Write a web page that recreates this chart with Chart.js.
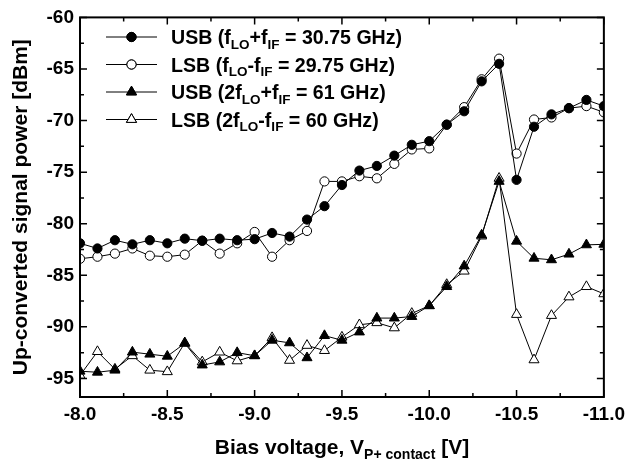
<!DOCTYPE html>
<html><head><meta charset="utf-8">
<script src="https://cdn.jsdelivr.net/npm/chart.js@4.4.1/dist/chart.umd.min.js"></script>
<style>html,body{margin:0;padding:0;background:#fff;} canvas{display:block;}</style>
</head><body>
<canvas id="c" width="631" height="463"></canvas>
<script>
// ---- data ----
const biasVoltage = [-8.0,-8.1,-8.2,-8.3,-8.4,-8.5,-8.6,-8.7,-8.8,-8.9,-9.0,-9.1,-9.2,-9.3,-9.4,-9.5,-9.6,-9.7,-9.8,-9.9,-10.0,-10.1,-10.2,-10.3,-10.4,-10.5,-10.6,-10.7,-10.8,-10.9,-11.0];
const usbFund  = [-81.9,-82.4,-81.6,-82.0,-81.6,-81.9,-81.45,-81.65,-81.45,-81.6,-81.5,-80.9,-81.25,-79.6,-78.3,-76.25,-74.85,-74.4,-73.4,-72.35,-72.0,-70.4,-69.1,-66.2,-64.5,-75.75,-70.6,-69.4,-68.8,-68.0,-68.6];
const lsbFund  = [-83.4,-83.2,-82.9,-82.4,-83.1,-83.2,-83.0,-81.65,-82.9,-81.9,-80.8,-83.2,-81.6,-80.7,-75.9,-75.9,-75.4,-75.6,-74.2,-72.8,-72.7,-70.4,-68.7,-66.0,-64.0,-73.2,-69.9,-69.7,-68.8,-68.6,-69.2];
const usbSecond = [-94.3,-94.4,-94.2,-92.45,-92.65,-92.85,-91.6,-93.7,-93.4,-92.5,-92.8,-91.3,-91.55,-93.0,-90.85,-91.3,-90.5,-89.15,-89.15,-89.0,-87.95,-86.1,-84.1,-81.1,-75.9,-81.7,-83.35,-83.5,-82.95,-82.05,-82.0];
const lsbSecond = [-94.7,-92.4,-94.1,-92.8,-94.2,-94.35,-91.55,-93.4,-92.45,-93.3,-92.8,-91.05,-93.25,-91.8,-92.3,-91.0,-89.8,-89.6,-90.1,-88.7,-87.95,-85.9,-84.6,-81.2,-75.6,-88.8,-93.2,-88.9,-87.1,-86.1,-86.8];
const seriesLabels = [
  'USB (f_{LO}+f_{IF} = 30.75 GHz)',
  'LSB (f_{LO}-f_{IF} = 29.75 GHz)',
  'USB (2f_{LO}+f_{IF} = 61 GHz)',
  'LSB (2f_{LO}-f_{IF} = 60 GHz)'
];
const xTickValues = [-8.0,-8.5,-9.0,-9.5,-10.0,-10.5,-11.0];
const yTickValues = [-95,-90,-85,-80,-75,-70,-65,-60];
const xTitle = 'Bias voltage, V_{P+ contact} [V]';
const yTitle = 'Up-converted signal power [dBm]';

// ---- styling ----
const FONT = '"Liberation Sans", Arial, Helvetica, sans-serif';
const markerStyles = [
  {pointStyle:'circle', fill:'#000', r:4.6},
  {pointStyle:'circle', fill:'#fff', r:4.6},
  {pointStyle:'triangle', fill:'#000', r:5.8},
  {pointStyle:'triangle', fill:'#fff', r:5.8}
];
const seriesValues = [usbFund, lsbFund, usbSecond, lsbSecond];

function parseRich(s){
  const out=[]; const re=/_\{([^}]*)\}/g; let last=0,m;
  while((m=re.exec(s))){ if(m.index>last) out.push({t:s.slice(last,m.index),sub:false}); out.push({t:m[1],sub:true}); last=re.lastIndex; }
  if(last<s.length) out.push({t:s.slice(last),sub:false});
  return out;
}
function richWidth(ctx,segs,size,subSize){ let w=0; for(const s of segs){ ctx.font='bold '+(s.sub?subSize:size)+'px '+FONT; w+=ctx.measureText(s.t).width; } return w; }
function drawRich(ctx,segs,x,y,size,subSize,subDy){
  let cx=x; ctx.textAlign='left'; ctx.textBaseline='alphabetic';
  for(const s of segs){ ctx.font='bold '+(s.sub?subSize:size)+'px '+FONT; ctx.fillText(s.t,cx,s.sub?y+subDy:y); cx+=ctx.measureText(s.t).width; }
}

const decorPlugin = {
  id:'decor',
  afterDraw(chart){
    const ctx=chart.ctx; const {left,right,top,bottom}=chart.chartArea;
    const xs=chart.scales.x, ys=chart.scales.y;
    ctx.save();
    ctx.strokeStyle='#000'; ctx.fillStyle='#000';
    ctx.lineWidth=1.5;
    ctx.beginPath();
    for(let i=0;i<xTickValues.length;i++){
      const p=xs.getPixelForValue(xTickValues[i]);
      ctx.moveTo(p,bottom); ctx.lineTo(p,bottom-7);
      ctx.moveTo(p,top); ctx.lineTo(p,top+7);
      if(i<xTickValues.length-1){
        const q=xs.getPixelForValue((xTickValues[i]+xTickValues[i+1])/2);
        ctx.moveTo(q,bottom); ctx.lineTo(q,bottom-4);
        ctx.moveTo(q,top); ctx.lineTo(q,top+4);
      }
    }
    for(let i=0;i<yTickValues.length;i++){
      const p=ys.getPixelForValue(yTickValues[i]);
      ctx.moveTo(left,p); ctx.lineTo(left+7,p);
      ctx.moveTo(right,p); ctx.lineTo(right-7,p);
      if(i<yTickValues.length-1){
        const q=ys.getPixelForValue((yTickValues[i]+yTickValues[i+1])/2);
        ctx.moveTo(left,q); ctx.lineTo(left+4,q);
        ctx.moveTo(right,q); ctx.lineTo(right-4,q);
      }
    }
    ctx.stroke();
    ctx.lineWidth=2;
    ctx.strokeRect(left,top,right-left,bottom-top);
    // legend
    const rowY=[37,64.5,92,119.5];
    for(let k=0;k<4;k++){
      const y=rowY[k]; const ms=markerStyles[k];
      ctx.lineWidth=1; ctx.strokeStyle='#000';
      ctx.beginPath(); ctx.moveTo(106,y); ctx.lineTo(157,y); ctx.stroke();
      Chart.helpers.drawPoint(ctx,{pointStyle:ms.pointStyle,radius:ms.r,rotation:0,borderWidth:1},131.5,y);
      ctx.fillStyle=ms.fill; ctx.fill(); ctx.stroke();
      ctx.fillStyle='#000';
      drawRich(ctx,parseRich(seriesLabels[k]),171,y+7,19.6,13.5,4.5);
    }
    // x title
    const xs2=parseRich(xTitle);
    const w=richWidth(ctx,xs2,21,14);
    drawRich(ctx,xs2,(left+right)/2-w/2,454,21,14,5);
    // y title
    ctx.save();
    ctx.translate(21,(top+bottom)/2); ctx.rotate(-Math.PI/2);
    ctx.font='bold 21px '+FONT; ctx.textAlign='center'; ctx.textBaseline='middle';
    ctx.fillText(yTitle,0,0);
    ctx.restore();
    ctx.restore();
  }
};

const datasets = seriesValues.map((vals,k)=>({
  label: seriesLabels[k],
  data: biasVoltage.map((x,i)=>({x:x,y:vals[i]})),
  borderColor:'#000', borderWidth:1,
  pointStyle: markerStyles[k].pointStyle,
  pointRadius: markerStyles[k].r,
  pointHoverRadius: markerStyles[k].r,
  pointBackgroundColor: markerStyles[k].fill,
  pointBorderColor:'#000', pointBorderWidth:1,
  tension:0, fill:false
}));

new Chart(document.getElementById('c'),{
  type:'line',
  data:{datasets},
  options:{
    responsive:false, animation:false,
    layout:{padding:{top:13,right:24,left:0,bottom:0}},
    plugins:{legend:{display:false},tooltip:{enabled:false}},
    scales:{
      x:{
        type:'linear', reverse:true, min:-11, max:-8,
        afterBuildTicks:(s)=>{ s.ticks=xTickValues.map(v=>({value:v})); },
        afterFit:(s)=>{ s.height=66; },
        grid:{display:false, drawTicks:false},
        border:{display:false},
        ticks:{color:'#000', padding:6, maxRotation:0, autoSkip:false, font:{family:FONT,size:19,weight:'bold'}, callback:(v)=>Number(v).toFixed(1)}
      },
      y:{
        type:'linear', min:-96.8, max:-60,
        afterBuildTicks:(s)=>{ s.ticks=yTickValues.map(v=>({value:v})); },
        afterFit:(s)=>{ s.width=80; },
        grid:{display:false, drawTicks:false},
        border:{display:false},
        ticks:{color:'#000', padding:6, font:{family:FONT,size:19,weight:'bold'}, callback:(v)=>String(v)}
      }
    }
  },
  plugins:[decorPlugin]
});
</script>
</body></html>
